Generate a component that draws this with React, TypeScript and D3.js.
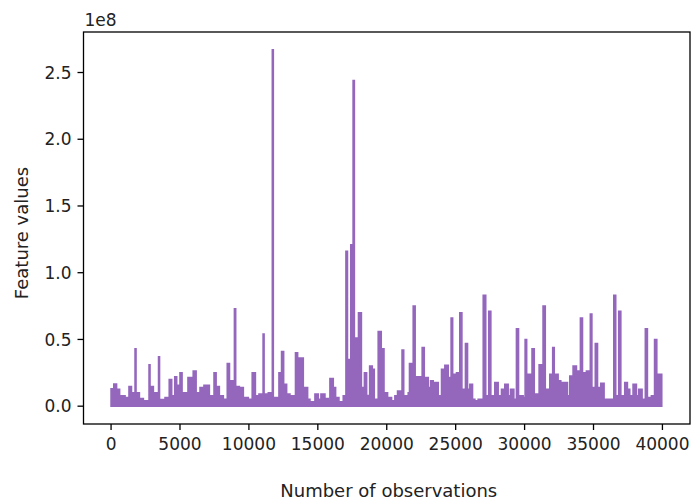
import React from "react";
import * as d3 from "d3";

// Step-wise envelope of the feature series (observation index where a level starts, value)
const observations = [
  0, 200, 400, 620, 1015, 1300, 1480, 1740, 1810, 2054, 2344, 2755, 2825, 3069, 3445, 3515,
  3915, 4220, 4398, 4620, 4760, 5000, 5150, 5580, 5960, 6170, 6453, 6740, 7130, 7470, 7620,
  7855, 8145, 8430, 8590, 8950, 9040, 9305, 9595, 9957, 10240, 10470, 10730, 11030, 11100,
  11407, 11700, 11770, 12180, 12370, 12520, 12736, 12978, 13380, 13534, 13945, 14259, 14428,
  14791, 15032, 15226, 15516, 15757, 15878, 16120, 16289, 16531, 16845, 17040, 17150, 17390,
  17560, 17650, 17750, 17840, 17950, 18160, 18380, 18540, 18760, 18950, 19093, 19380, 19600,
  19800, 20060, 20350, 20591, 20784, 21110, 21230, 21558, 21650, 21920, 22060, 22570, 22720,
  23007, 23177, 23370, 23732, 23974, 24216, 24458, 24670, 24780, 25062, 25300, 25450, 25710,
  25860, 26029, 26222, 26391, 26633, 27000, 27180, 27400, 27550, 27841, 28083, 28325, 28566,
  28808, 28977, 29219, 29410, 29560, 29896, 30040, 30150, 30540, 30700, 31056, 31340, 31500,
  31828, 32040, 32150, 32432, 32625, 33109, 33278, 33519, 33761, 34050, 34200, 34486, 34770,
  34880, 35130, 35290, 35526, 35767, 36470, 36610, 36830, 36980, 37266, 37459, 37628, 37870,
  38112, 38281, 38523, 38760, 38910, 39199, 39430, 39590, 39950,
];

const featureValues = [
  0.13e8, 0.165e8, 0.127e8, 0.077e8, 0.065e8, 0.147e8, 0.1e8, 0.43e8, 0.1e8, 0.057e8, 0.04e8,
  0.31e8, 0.147e8, 0.1e8, 0.37e8, 0.05e8, 0.065e8, 0.2e8, 0.077e8, 0.22e8, 0.157e8, 0.25e8,
  0.1e8, 0.214e8, 0.263e8, 0.1e8, 0.14e8, 0.157e8, 0.077e8, 0.25e8, 0.147e8, 0.077e8, 0.052e8,
  0.32e8, 0.19e8, 0.73e8, 0.147e8, 0.14e8, 0.065e8, 0.052e8, 0.25e8, 0.077e8, 0.09e8, 0.54e8,
  0.09e8, 0.1e8, 2.67e8, 0.065e8, 0.25e8, 0.41e8, 0.164e8, 0.09e8, 0.077e8, 0.4e8, 0.36e8,
  0.14e8, 0.052e8, 0.032e8, 0.09e8, 0.052e8, 0.09e8, 0.057e8, 0.04e8, 0.207e8, 0.14e8,
  0.065e8, 0.032e8, 0.077e8, 1.16e8, 0.35e8, 1.21e8, 2.44e8, 0.35e8, 0.51e8, 0.3e8, 0.7e8,
  0.14e8, 0.25e8, 0.08e8, 0.3e8, 0.276e8, 0.052e8, 0.56e8, 0.43e8, 0.1e8, 0.065e8, 0.04e8,
  0.077e8, 0.114e8, 0.42e8, 0.077e8, 0.1e8, 0.32e8, 0.75e8, 0.22e8, 0.44e8, 0.214e8, 0.14e8,
  0.19e8, 0.177e8, 0.077e8, 0.276e8, 0.306e8, 0.214e8, 0.66e8, 0.239e8, 0.25e8, 0.7e8,
  0.127e8, 0.47e8, 0.127e8, 0.164e8, 0.052e8, 0.04e8, 0.052e8, 0.83e8, 0.077e8, 0.71e8,
  0.077e8, 0.177e8, 0.077e8, 0.127e8, 0.164e8, 0.077e8, 0.127e8, 0.052e8, 0.58e8, 0.077e8,
  0.065e8, 0.5e8, 0.239e8, 0.43e8, 0.09e8, 0.31e8, 0.75e8, 0.127e8, 0.239e8, 0.44e8, 0.239e8,
  0.19e8, 0.177e8, 0.077e8, 0.226e8, 0.3e8, 0.264e8, 0.66e8, 0.25e8, 0.264e8, 0.69e8, 0.14e8,
  0.47e8, 0.14e8, 0.172e8, 0.052e8, 0.83e8, 0.077e8, 0.71e8, 0.077e8, 0.177e8, 0.127e8,
  0.077e8, 0.164e8, 0.077e8, 0.127e8, 0.052e8, 0.58e8, 0.065e8, 0.077e8, 0.5e8, 0.239e8,
  0.239e8,
];

const xTicks = [0, 5000, 10000, 15000, 20000, 25000, 30000, 35000, 40000];
const yTicks = [0, 0.5e8, 1.0e8, 1.5e8, 2.0e8, 2.5e8];
const xDomain = [-2000, 42000];
const yDomain = [-0.1335e8, 2.8035e8];

const W = 691;
const H = 502;
const M = { left: 83.5, right: 690, top: 32, bottom: 424 };
const PURPLE = "#9467bd";
const TEXT = "#222";
const FONT = "'DejaVu Sans', sans-serif";
const FS = 17;
const FS_LABEL = 18;

export default function App() {
  const x = d3.scaleLinear().domain(xDomain).range([M.left, M.right]);
  const y = d3.scaleLinear().domain(yDomain).range([M.bottom, M.top]);
  const data: [number, number][] = observations.map((o, i) => [o, featureValues[i]]);

  const area = d3
    .area<[number, number]>()
    .x((d) => x(d[0]))
    .y0(y(0))
    .y1((d) => y(d[1]))
    .curve(d3.curveStepAfter);

  return (
    <svg
      width={W}
      height={H}
      style={{ position: "absolute", left: 0, top: 0, background: "#fff" }}
      fontFamily={FONT}
    >
      <rect x={0} y={0} width={W} height={H} fill="#fff" />
      <path d={area(data) || ""} fill={PURPLE} stroke={PURPLE} strokeWidth={1.6} strokeLinejoin="miter" />

      {/* spines */}
      <rect
        x={M.left}
        y={M.top}
        width={M.right - M.left}
        height={M.bottom - M.top}
        fill="none"
        stroke="#000"
        strokeWidth={1.3}
      />

      {/* x ticks */}
      {xTicks.map((t) => (
        <g key={"x" + t} transform={`translate(${x(t)},${M.bottom})`}>
          <line y1={0} y2={6} stroke="#000" strokeWidth={1.3} />
          <text y={26} textAnchor="middle" fontSize={FS} fill={TEXT}>
            {d3.format("d")(t)}
          </text>
        </g>
      ))}

      {/* y ticks */}
      {yTicks.map((t) => (
        <g key={"y" + t} transform={`translate(${M.left},${y(t)})`}>
          <line x1={0} x2={-6} stroke="#000" strokeWidth={1.3} />
          <text x={-12} dy="0.36em" textAnchor="end" fontSize={FS} fill={TEXT}>
            {(t / 1e8).toFixed(1)}
          </text>
        </g>
      ))}

      <text x={M.left + 1} y={26} fontSize={FS} fill={TEXT}>
        1e8
      </text>

      <text
        x={(M.left + M.right) / 2 + 2}
        y={497}
        textAnchor="middle"
        fontSize={FS_LABEL}
        fill={TEXT}
      >
        Number of observations
      </text>

      <text
        transform={`translate(28,${(M.top + M.bottom) / 2 + 5}) rotate(-90)`}
        textAnchor="middle"
        fontSize={FS_LABEL}
        fill={TEXT}
      >
        Feature values
      </text>
    </svg>
  );
}
